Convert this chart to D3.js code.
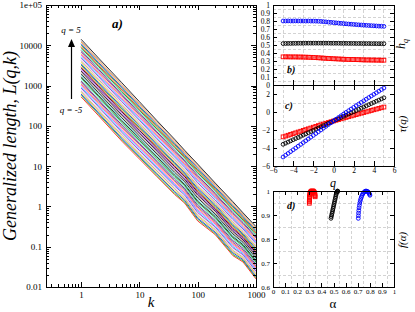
<!DOCTYPE html>
<html lang="en">
<head>
	<meta charset="UTF-8">
	<title>Generalized length L(q,k), h(q), tau(q), f(alpha)</title>
	<script src="https://cdn.jsdelivr.net/npm/d3@7"></script>
	<style>
		body {
			margin: 0;
			background: #fff;
		}
		svg {
			display: block;
			font-family: "Liberation Serif", "Times New Roman", serif;
		}
		.tick line {
			stroke: #000;
			shape-rendering: crispEdges;
		}
		.frame {
			fill: none;
			stroke: #000;
			stroke-width: 1;
			shape-rendering: crispEdges;
		}
		.grid {
			stroke: #c8c8c8;
			stroke-width: 0.8;
			stroke-dasharray: 3,2;
			shape-rendering: crispEdges;
		}
	</style>
</head>
<body>
<script>
	// ---- panel a) : generalized length, one row per q, log10 L at each k
	var kValues = [1, 2, 5, 10, 20, 40, 60, 100, 200, 400, 600, 1000];
	var qLines = [-5, -4.75, -4.5, -4.25, -4, -3.75, -3.5, -3.25, -3, -2.75, -2.5, -2.25, -2, -1.75, -1.5, -1.25, -1, -0.75, -0.5, -0.25,
		0, 0.25, 0.5, 0.75, 1, 1.25, 1.5, 1.75, 2, 2.25, 2.5, 2.75, 3, 3.25, 3.5, 3.75, 4, 4.25, 4.5, 4.75, 5];
	var logL = [
		[2.72, 2.25, 1.62, 1.18, 0.74, 0.30, 0.08, -0.36, -0.70, -1.22, -1.38, -1.80],
		[2.76, 2.29, 1.66, 1.22, 0.77, 0.33, 0.11, -0.32, -0.67, -1.19, -1.35, -1.77],
		[2.79, 2.32, 1.69, 1.25, 0.81, 0.37, 0.15, -0.29, -0.64, -1.15, -1.32, -1.74],
		[2.83, 2.36, 1.73, 1.29, 0.84, 0.40, 0.18, -0.25, -0.60, -1.12, -1.29, -1.70],
		[2.86, 2.39, 1.77, 1.32, 0.88, 0.44, 0.21, -0.22, -0.57, -1.09, -1.26, -1.67],
		[2.90, 2.43, 1.80, 1.36, 0.91, 0.47, 0.24, -0.18, -0.54, -1.05, -1.23, -1.64],
		[2.94, 2.47, 1.84, 1.39, 0.95, 0.51, 0.28, -0.15, -0.51, -1.02, -1.20, -1.61],
		[2.97, 2.50, 1.87, 1.43, 0.98, 0.54, 0.31, -0.11, -0.48, -0.99, -1.17, -1.57],
		[3.01, 2.54, 1.91, 1.46, 1.02, 0.57, 0.34, -0.08, -0.44, -0.95, -1.14, -1.54],
		[3.04, 2.57, 1.95, 1.50, 1.05, 0.61, 0.38, -0.04, -0.41, -0.92, -1.11, -1.51],
		[3.08, 2.61, 1.98, 1.54, 1.09, 0.64, 0.41, -0.01, -0.38, -0.89, -1.08, -1.48],
		[3.11, 2.64, 2.02, 1.57, 1.12, 0.68, 0.44, 0.03, -0.35, -0.85, -1.04, -1.44],
		[3.15, 2.68, 2.06, 1.61, 1.16, 0.71, 0.47, 0.06, -0.32, -0.82, -1.01, -1.41],
		[3.19, 2.72, 2.09, 1.64, 1.19, 0.75, 0.51, 0.10, -0.28, -0.78, -0.98, -1.38],
		[3.22, 2.75, 2.13, 1.68, 1.23, 0.78, 0.54, 0.13, -0.25, -0.75, -0.95, -1.35],
		[3.26, 2.79, 2.16, 1.71, 1.26, 0.81, 0.57, 0.17, -0.22, -0.72, -0.92, -1.31],
		[3.29, 2.82, 2.20, 1.75, 1.30, 0.85, 0.61, 0.21, -0.19, -0.68, -0.89, -1.28],
		[3.33, 2.86, 2.24, 1.78, 1.33, 0.88, 0.64, 0.24, -0.16, -0.65, -0.86, -1.25],
		[3.36, 2.89, 2.27, 1.82, 1.37, 0.92, 0.67, 0.28, -0.12, -0.62, -0.83, -1.22],
		[3.40, 2.93, 2.31, 1.85, 1.40, 0.95, 0.70, 0.31, -0.09, -0.58, -0.80, -1.18],
		[3.44, 2.97, 2.35, 1.89, 1.44, 0.99, 0.74, 0.35, -0.06, -0.55, -0.77, -1.15],
		[3.47, 3.00, 2.38, 1.93, 1.47, 1.02, 0.77, 0.38, -0.03, -0.52, -0.74, -1.12],
		[3.51, 3.04, 2.42, 1.96, 1.51, 1.06, 0.80, 0.42, 0.00, -0.48, -0.71, -1.09],
		[3.54, 3.07, 2.46, 2.00, 1.54, 1.09, 0.83, 0.45, 0.04, -0.45, -0.68, -1.05],
		[3.58, 3.11, 2.49, 2.03, 1.58, 1.12, 0.87, 0.49, 0.07, -0.42, -0.65, -1.02],
		[3.62, 3.15, 2.53, 2.07, 1.61, 1.16, 0.90, 0.52, 0.10, -0.38, -0.62, -0.99],
		[3.65, 3.18, 2.56, 2.10, 1.65, 1.19, 0.93, 0.56, 0.13, -0.35, -0.59, -0.96],
		[3.69, 3.22, 2.60, 2.14, 1.68, 1.23, 0.97, 0.59, 0.16, -0.32, -0.56, -0.92],
		[3.72, 3.25, 2.64, 2.17, 1.71, 1.26, 1.00, 0.63, 0.20, -0.28, -0.53, -0.89],
		[3.76, 3.29, 2.67, 2.21, 1.75, 1.30, 1.03, 0.66, 0.23, -0.25, -0.50, -0.86],
		[3.79, 3.32, 2.71, 2.25, 1.78, 1.33, 1.06, 0.70, 0.26, -0.22, -0.47, -0.83],
		[3.83, 3.36, 2.75, 2.28, 1.82, 1.36, 1.10, 0.73, 0.29, -0.18, -0.43, -0.79],
		[3.87, 3.40, 2.78, 2.32, 1.85, 1.40, 1.13, 0.77, 0.32, -0.15, -0.40, -0.76],
		[3.90, 3.43, 2.82, 2.35, 1.89, 1.43, 1.16, 0.81, 0.36, -0.11, -0.37, -0.73],
		[3.94, 3.47, 2.85, 2.39, 1.92, 1.47, 1.20, 0.84, 0.39, -0.08, -0.34, -0.70],
		[3.97, 3.50, 2.89, 2.42, 1.96, 1.50, 1.23, 0.88, 0.42, -0.05, -0.31, -0.66],
		[4.01, 3.54, 2.93, 2.46, 1.99, 1.54, 1.26, 0.91, 0.45, -0.01, -0.28, -0.63],
		[4.04, 3.57, 2.96, 2.49, 2.03, 1.57, 1.29, 0.95, 0.48, 0.02, -0.25, -0.60],
		[4.08, 3.61, 3.00, 2.53, 2.06, 1.60, 1.33, 0.98, 0.52, 0.05, -0.22, -0.57],
		[4.11, 3.64, 3.03, 2.56, 2.10, 1.64, 1.36, 1.02, 0.55, 0.09, -0.19, -0.53],
		[4.15, 3.68, 3.07, 2.60, 2.13, 1.67, 1.39, 1.05, 0.58, 0.12, -0.16, -0.50]
	];
	// grace-like colour for each q line (bottom q=-5 ... top q=5)
	var lineColors = [
		'#ff0000', '#00c800', '#0000ff', '#e6e600', '#bc8f8f', '#dcdcdc', '#9400d3', '#00ffff', '#ff00ff', '#ffa500', '#7221bc', '#670748', '#40e0d0', '#008b00',
		'#000000', '#40e0d0', '#000000', '#bc8f8f', '#000000', '#9400d3', '#000000',
		'#ff0000', '#00c800', '#0000ff', '#e6e600', '#bc8f8f', '#dcdcdc', '#9400d3', '#00ffff', '#ff00ff', '#ffa500', '#7221bc', '#670748', '#40e0d0', '#008b00',
		'#ff0000', '#00c800', '#0000ff', '#ffa500', '#bc8f8f', '#000000'
	];
	var kMajor = [1, 10, 100, 1000];
	var kMajorLabels = ['1', '10', '100', '1000'];
	var kMinor = [0.3, 0.4, 0.5, 0.6, 0.7, 0.8, 0.9, 2, 3, 4, 5, 6, 7, 8, 9, 20, 30, 40, 50, 60, 70, 80, 90, 200, 300, 400, 500, 600, 700, 800, 900];
	var lMajor = [0.01, 0.1, 1, 10, 100, 1000, 10000, 100000];
	var lMajorLabels = ['0.01', '0.1', '1', '10', '100', '1000', '10000', '1e+05'];
	var lMinor = [];
	lMajor.slice(0, -1).forEach(function (d) {
		[2, 3, 4, 5, 6, 7, 8, 9].forEach(function (m) { lMinor.push(d * m); });
	});

	// ---- panels b), c), d)
	var qPoints = [-5, -4.75, -4.5, -4.25, -4, -3.75, -3.5, -3.25, -3, -2.75, -2.5, -2.25, -2, -1.75, -1.5, -1.25, -1, -0.75, -0.5, -0.25,
		0, 0.25, 0.5, 0.75, 1, 1.25, 1.5, 1.75, 2, 2.25, 2.5, 2.75, 3, 3.25, 3.5, 3.75, 4, 4.25, 4.5, 4.75, 5];
	var hBlue = [0.800, 0.800, 0.801, 0.800, 0.800, 0.801, 0.800, 0.800, 0.800, 0.799, 0.800, 0.799, 0.799, 0.798, 0.797,
		0.795, 0.792, 0.789, 0.786, 0.783, 0.780, 0.777, 0.774, 0.771, 0.768, 0.765, 0.762, 0.760, 0.757, 0.755,
		0.752, 0.750, 0.748, 0.746, 0.744, 0.742, 0.740, 0.738, 0.736, 0.735, 0.733];
	var hBlack = [0.518, 0.519, 0.520, 0.520, 0.521, 0.521, 0.522, 0.522, 0.522, 0.523, 0.523, 0.523, 0.523, 0.523, 0.523,
		0.523, 0.523, 0.523, 0.523, 0.522, 0.522, 0.522, 0.522, 0.521, 0.521, 0.521, 0.520, 0.520, 0.520, 0.519,
		0.519, 0.519, 0.518, 0.518, 0.518, 0.517, 0.517, 0.517, 0.516, 0.516, 0.516];
	var hRed = [0.352, 0.352, 0.352, 0.351, 0.351, 0.351, 0.350, 0.350, 0.349, 0.348, 0.347, 0.346, 0.344, 0.342, 0.340,
		0.338, 0.336, 0.334, 0.332, 0.330, 0.328, 0.327, 0.325, 0.324, 0.322, 0.321, 0.320, 0.319, 0.318, 0.317,
		0.316, 0.315, 0.314, 0.313, 0.313, 0.312, 0.312, 0.311, 0.311, 0.310, 0.310];

	var alphaRed = [0.300, 0.300, 0.301, 0.301, 0.302, 0.303, 0.304, 0.306, 0.309, 0.313, 0.318, 0.323, 0.328, 0.333, 0.337, 0.341, 0.344, 0.346, 0.347, 0.348];
	var fRed = [0.949, 0.955, 0.961, 0.967, 0.973, 0.979, 0.985, 0.990, 0.994, 0.997, 0.999, 1.000, 1.000, 0.999, 0.997, 0.994, 0.990, 0.986, 0.981, 0.976];
	var alphaBlack = [0.479, 0.482, 0.485, 0.488, 0.491, 0.494, 0.497, 0.500, 0.503, 0.506, 0.509, 0.512, 0.515, 0.518, 0.521, 0.524, 0.527, 0.530, 0.533, 0.536];
	var fBlack = [0.886, 0.893, 0.900, 0.907, 0.914, 0.921, 0.928, 0.935, 0.942, 0.949, 0.956, 0.963, 0.970, 0.977, 0.984, 0.990, 0.995, 0.998, 1.000, 0.999];
	var alphaBlue = [0.705, 0.706, 0.707, 0.709, 0.711, 0.714, 0.717, 0.721, 0.725, 0.730, 0.736, 0.742, 0.749, 0.756, 0.763, 0.770, 0.777, 0.784, 0.790, 0.795, 0.799, 0.801];
	var fBlue = [0.886, 0.897, 0.908, 0.919, 0.930, 0.940, 0.950, 0.959, 0.967, 0.975, 0.982, 0.988, 0.993, 0.997, 0.999, 1.000, 0.999, 0.997, 0.994, 0.990, 0.986, 0.982];

	var qTicks = [-6, -4, -2, 0, 2, 4, 6];
	var qGrid = [-5, -3, -1, 1, 3, 5];
	var hTicks = [0, 0.1, 0.2, 0.3, 0.4, 0.5, 0.6, 0.7, 0.8, 0.9, 1];
	var hGrid = [0.05, 0.15, 0.25, 0.35, 0.45, 0.55, 0.65, 0.75, 0.85, 0.95];
	var tauTicks = [-6, -4, -2, 0, 2];
	var tauGrid = [-5, -3, -1, 1];
	var alphaTicks = [0, 0.1, 0.2, 0.3, 0.4, 0.5, 0.6, 0.7, 0.8, 0.9, 1];
	var alphaGrid = [0.05, 0.15, 0.25, 0.35, 0.45, 0.55, 0.65, 0.75, 0.85, 0.95];
	var fTicks = [0.6, 0.7, 0.8, 0.9, 1];
	var fGrid = [0.65, 0.75, 0.85, 0.95];

	var width = 415,
		height = 312;

	var svg = d3.select("body").append("svg")
		.attr("width", width)
		.attr("height", height);

	function fmt(labels, values) {
		return function (d) {
			var i = values.indexOf(d);
			return i < 0 ? '' : labels[i];
		};
	}

	// draws an axis with inward ticks, drops the domain path
	function axis(gen, tx, ty, fontSize) {
		var g = svg.append("g")
			.attr("transform", "translate(" + tx + "," + ty + ")")
			.call(gen);
		g.select(".domain").remove();
		g.attr("font-family", null).attr("font-size", fontSize);
		return g;
	}

	// ======== panel a
	var ax = {left: 46, right: 256, top: 5, bottom: 287};
	var xA = d3.scaleLog().domain([0.25, 1000]).range([ax.left, ax.right]);
	var yA = d3.scaleLog().domain([0.01, 100000]).range([ax.bottom, ax.top]);

	var lineA = d3.line()
		.x(function (d, i) { return xA(kValues[i]); })
		.y(function (d) { return yA(Math.pow(10, d)); });

	svg.append("g")
		.selectAll("path")
		.data(logL)
		.enter().append("path")
		.attr("d", lineA)
		.attr("fill", "none")
		.attr("stroke", function (d, i) { return lineColors[i]; })
		.attr("stroke-width", 0.8);

	axis(d3.axisBottom(xA).tickValues(kMajor).tickSize(-5).tickPadding(5).tickFormat(fmt(kMajorLabels, kMajor)), 0, ax.bottom, 9);
	axis(d3.axisBottom(xA).tickValues(kMinor).tickSize(-3).tickFormat(''), 0, ax.bottom, 9);
	axis(d3.axisTop(xA).tickValues(kMajor).tickSize(-5).tickFormat(''), 0, ax.top, 9);
	axis(d3.axisTop(xA).tickValues(kMinor).tickSize(-3).tickFormat(''), 0, ax.top, 9);
	axis(d3.axisLeft(yA).tickValues(lMajor).tickSize(-5).tickPadding(4).tickFormat(fmt(lMajorLabels, lMajor)), ax.left, 0, 9);
	axis(d3.axisLeft(yA).tickValues(lMinor).tickSize(-3).tickFormat(''), ax.left, 0, 9);
	axis(d3.axisRight(yA).tickValues(lMajor).tickSize(-5).tickFormat(''), ax.right, 0, 9);
	axis(d3.axisRight(yA).tickValues(lMinor).tickSize(-3).tickFormat(''), ax.right, 0, 9);

	svg.append("rect").attr("class", "frame")
		.attr("x", ax.left).attr("y", ax.top)
		.attr("width", ax.right - ax.left).attr("height", ax.bottom - ax.top);

	svg.append("text")
		.attr("transform", "translate(16,146) rotate(-90)")
		.attr("text-anchor", "middle")
		.attr("font-size", 18)
		.attr("font-style", "italic")
		.text("Generalized length, L(q,k)");

	svg.append("text")
		.attr("x", 151).attr("y", 307)
		.attr("text-anchor", "middle")
		.attr("font-size", 15)
		.attr("font-style", "italic")
		.text("k");

	svg.append("text")
		.attr("x", 112).attr("y", 28)
		.attr("font-size", 13)
		.attr("font-style", "italic")
		.attr("font-weight", "bold")
		.text("a)");

	// q arrow
	svg.append("line")
		.attr("x1", 71.5).attr("x2", 71.5)
		.attr("y1", 99).attr("y2", 45)
		.attr("stroke", "#000").attr("stroke-width", 1.2);
	svg.append("path")
		.attr("d", "M68,47 L75,47 L71.5,39 Z")
		.attr("fill", "#000");
	svg.append("text")
		.attr("x", 71).attr("y", 33)
		.attr("text-anchor", "middle")
		.attr("font-size", 9)
		.attr("font-style", "italic")
		.text("q = 5");
	svg.append("text")
		.attr("x", 71).attr("y", 113)
		.attr("text-anchor", "middle")
		.attr("font-size", 9)
		.attr("font-style", "italic")
		.text("q = -5");

	// ======== right panels
	var rx = {left: 273, right: 394};
	var bY = {top: 5, bottom: 85};
	var cY = {top: 85, bottom: 166};
	var dY = {top: 191, bottom: 287};

	var xQ = d3.scaleLinear().domain([-6, 6]).range([rx.left, rx.right]);
	var yH = d3.scaleLinear().domain([0, 1]).range([bY.bottom, bY.top]);
	var yTau = d3.scaleLinear().domain([-6, 3]).range([cY.bottom, cY.top]);
	var xAl = d3.scaleLinear().domain([0, 1]).range([rx.left, rx.right]);
	var yF = d3.scaleLinear().domain([0.6, 1]).range([dY.bottom, dY.top]);

	function grid(xs, ys, xScale, yScale, box) {
		var g = svg.append("g");
		g.selectAll(".gx").data(xs).enter().append("line")
			.attr("class", "grid")
			.attr("x1", function (d) { return xScale(d); })
			.attr("x2", function (d) { return xScale(d); })
			.attr("y1", box.top).attr("y2", box.bottom);
		g.selectAll(".gy").data(ys).enter().append("line")
			.attr("class", "grid")
			.attr("y1", function (d) { return yScale(d); })
			.attr("y2", function (d) { return yScale(d); })
			.attr("x1", rx.left).attr("x2", rx.right);
	}

	grid(qGrid, hGrid, xQ, yH, bY);
	grid(qGrid, tauGrid, xQ, yTau, cY);
	grid(alphaGrid, fGrid, xAl, yF, dY);

	// markers
	function circles(xs, ys, xScale, yScale, color) {
		svg.append("g").selectAll("circle")
			.data(xs)
			.enter().append("circle")
			.attr("cx", function (d) { return xScale(d); })
			.attr("cy", function (d, i) { return yScale(ys[i]); })
			.attr("r", 1.9)
			.attr("fill", "none")
			.attr("stroke", color)
			.attr("stroke-width", 0.9);
	}
	function squares(xs, ys, xScale, yScale, color) {
		svg.append("g").selectAll("rect")
			.data(xs)
			.enter().append("rect")
			.attr("x", function (d) { return xScale(d) - 1.9; })
			.attr("y", function (d, i) { return yScale(ys[i]) - 1.9; })
			.attr("width", 3.8).attr("height", 3.8)
			.attr("fill", "none")
			.attr("stroke", color)
			.attr("stroke-width", 0.9);
	}

	// b) h(q)
	circles(qPoints, hBlue, xQ, yH, "#0000ff");
	circles(qPoints, hBlack, xQ, yH, "#000000");
	squares(qPoints, hRed, xQ, yH, "#ff0000");

	// c) tau(q) = q h(q) - 1
	function tauOf(h) {
		return h.map(function (v, i) { return qPoints[i] * v - 1; });
	}
	squares(qPoints, tauOf(hRed), xQ, yTau, "#ff0000");
	circles(qPoints, tauOf(hBlack), xQ, yTau, "#000000");
	circles(qPoints, tauOf(hBlue), xQ, yTau, "#0000ff");

	// d) f(alpha)
	squares(alphaRed, fRed, xAl, yF, "#ff0000");
	circles(alphaBlack, fBlack, xAl, yF, "#000000");
	circles(alphaBlue, fBlue, xAl, yF, "#0000ff");

	var fs = 7.5;
	// b axes
	axis(d3.axisLeft(yH).tickValues(hTicks).tickSize(-4).tickPadding(3).tickFormat(d3.format("~g")), rx.left, 0, fs);
	axis(d3.axisRight(yH).tickValues(hTicks).tickSize(-4).tickFormat(''), rx.right, 0, fs);
	axis(d3.axisTop(xQ).tickValues(qTicks).tickSize(-5).tickFormat(''), 0, bY.top, fs);
	axis(d3.axisBottom(xQ).tickValues(qTicks).tickSize(-5).tickFormat(''), 0, bY.bottom, fs);
	// c axes
	axis(d3.axisLeft(yTau).tickValues(tauTicks).tickSize(-4).tickPadding(3).tickFormat(d3.format("~g")), rx.left, 0, fs);
	axis(d3.axisRight(yTau).tickValues(tauTicks).tickSize(-4).tickFormat(''), rx.right, 0, fs);
	axis(d3.axisTop(xQ).tickValues(qTicks).tickSize(-5).tickFormat(''), 0, cY.top, fs);
	axis(d3.axisBottom(xQ).tickValues(qTicks).tickSize(-5).tickPadding(2).tickFormat(d3.format("~g")), 0, cY.bottom, fs);
	// d axes
	axis(d3.axisLeft(yF).tickValues(fTicks).tickSize(-4).tickPadding(3).tickFormat(d3.format("~g")), rx.left, 0, 7);
	axis(d3.axisRight(yF).tickValues(fTicks).tickSize(-4).tickFormat(''), rx.right, 0, fs);
	axis(d3.axisTop(xAl).tickValues(alphaTicks).tickSize(-4).tickFormat(''), 0, dY.top, fs);
	axis(d3.axisBottom(xAl).tickValues(alphaTicks).tickSize(-4).tickPadding(2).tickFormat(d3.format("~g")), 0, dY.bottom, 7);

	[bY, cY, dY].forEach(function (b) {
		svg.append("rect").attr("class", "frame")
			.attr("x", rx.left).attr("y", b.top)
			.attr("width", rx.right - rx.left).attr("height", b.bottom - b.top);
	});

	// panel labels
	[["b)", 287, 73], ["c)", 285, 109], ["d)", 287, 209]].forEach(function (p) {
		svg.append("text")
			.attr("x", p[1]).attr("y", p[2])
			.attr("font-size", 10)
			.attr("font-style", "italic")
			.attr("font-weight", "bold")
			.text(p[0]);
	});

	var hLab = svg.append("text")
		.attr("transform", "translate(405,44) rotate(-90)")
		.attr("text-anchor", "middle")
		.attr("font-size", 12)
		.attr("font-style", "italic");
	hLab.append("tspan").text("h");
	hLab.append("tspan").attr("dy", 3).attr("font-size", 8).text("q");

	svg.append("text")
		.attr("transform", "translate(406,124) rotate(-90)")
		.attr("text-anchor", "middle")
		.attr("font-size", 11)
		.attr("font-style", "italic")
		.text("τ(q)");

	svg.append("text")
		.attr("transform", "translate(406,240) rotate(-90)")
		.attr("text-anchor", "middle")
		.attr("font-size", 11)
		.attr("font-style", "italic")
		.text("f(α)");

	svg.append("text")
		.attr("x", 333).attr("y", 187)
		.attr("text-anchor", "middle")
		.attr("font-size", 12)
		.attr("font-style", "italic")
		.text("q");

	svg.append("text")
		.attr("x", 333).attr("y", 308)
		.attr("text-anchor", "middle")
		.attr("font-size", 13)
		.text("α");
</script>
</body>
</html>
